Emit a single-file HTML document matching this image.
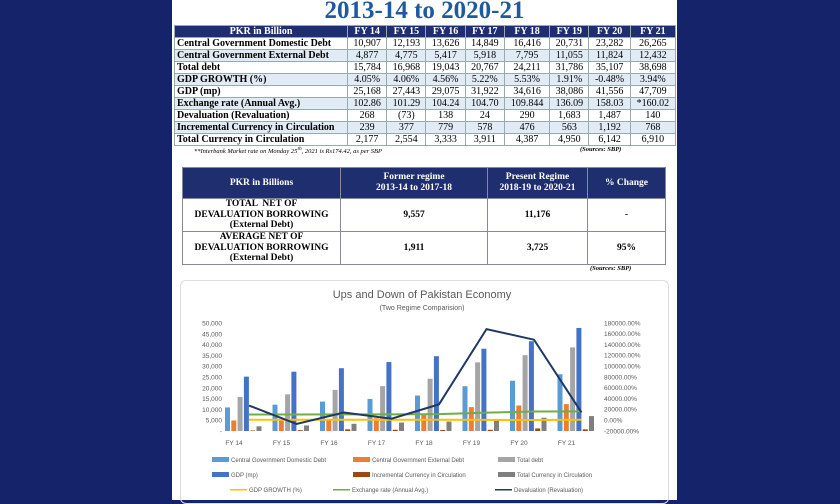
<!DOCTYPE html>
<html><head><meta charset="utf-8"><style>
body{margin:0;width:840px;height:500px;overflow:hidden;background:#15246a;font-family:"Liberation Serif",serif;}
#page{position:absolute;left:172px;top:0;width:505px;height:500px;background:#fff;}
#title{position:absolute;left:0;width:505px;top:-3px;text-align:center;font-weight:bold;font-size:25px;color:#1f5aa0;}
table{border-collapse:collapse;position:absolute;}
#t1{left:2px;top:25px;width:502px;font-size:10px;}
#t1 td,#t1 th{height:11px;padding:0 2px;line-height:11px;border:1px solid #9aa;text-align:center;}
#t1 th{background:#1e2e6e;color:#fff;}
#t1 td:first-child{text-align:left;font-weight:bold;}
#t1 tr.l td{background:#e1ebf5;}
#note{position:absolute;left:22px;top:146px;font-size:6.5px;font-style:italic;}
#src1{position:absolute;left:408px;top:146px;font-size:6.5px;font-style:italic;font-weight:bold;}
#t2{left:10px;top:167px;width:484px;font-size:9.5px;font-weight:bold;}
#t2 th{background:#1e2e6e;color:#fff;height:30px;border:1px solid #889;line-height:11px;padding:0;}
#t2 td{text-align:center;border:1px solid #889;height:32px;line-height:10.5px;padding:0;}
#src2{position:absolute;left:418px;top:265px;font-size:6.5px;font-style:italic;font-weight:bold;}
#chart{position:absolute;left:8px;top:280px;width:487px;height:222px;border:1px solid #ddd;border-radius:6px;}
</style></head><body>
<div id="page">
<div id="title">2013-14 to 2020-21</div>
<table id="t1">
<tr><th style="width:168px">PKR in Billion</th><th>FY 14</th><th>FY 15</th><th>FY 16</th><th>FY 17</th><th>FY 18</th><th>FY 19</th><th>FY 20</th><th>FY 21</th></tr>
<tr><td>Central Government Domestic Debt</td><td>10,907</td><td>12,193</td><td>13,626</td><td>14,849</td><td>16,416</td><td>20,731</td><td>23,282</td><td>26,265</td></tr>
<tr class="l"><td>Central Government External Debt</td><td>4,877</td><td>4,775</td><td>5,417</td><td>5,918</td><td>7,795</td><td>11,055</td><td>11,824</td><td>12,432</td></tr>
<tr><td>Total debt</td><td>15,784</td><td>16,968</td><td>19,043</td><td>20,767</td><td>24,211</td><td>31,786</td><td>35,107</td><td>38,698</td></tr>
<tr class="l"><td>GDP GROWTH (%)</td><td>4.05%</td><td>4.06%</td><td>4.56%</td><td>5.22%</td><td>5.53%</td><td>1.91%</td><td>-0.48%</td><td>3.94%</td></tr>
<tr><td>GDP (mp)</td><td>25,168</td><td>27,443</td><td>29,075</td><td>31,922</td><td>34,616</td><td>38,086</td><td>41,556</td><td>47,709</td></tr>
<tr class="l"><td>Exchange rate (Annual Avg.)</td><td>102.86</td><td>101.29</td><td>104.24</td><td>104.70</td><td>109.844</td><td>136.09</td><td>158.03</td><td>*160.02</td></tr>
<tr><td>Devaluation (Revaluation)</td><td>268</td><td>(73)</td><td>138</td><td>24</td><td>290</td><td>1,683</td><td>1,487</td><td>140</td></tr>
<tr class="l"><td>Incremental Currency in Circulation</td><td>239</td><td>377</td><td>779</td><td>578</td><td>476</td><td>563</td><td>1,192</td><td>768</td></tr>
<tr><td>Total Currency in Circulation</td><td>2,177</td><td>2,554</td><td>3,333</td><td>3,911</td><td>4,387</td><td>4,950</td><td>6,142</td><td>6,910</td></tr>
</table>
<div id="note">**Interbank Market rate on Monday 25<sup>th</sup>, 2021 is Rs174.42, as per SBP</div>
<div id="src1">(Sources: SBP)</div>
<table id="t2">
<tr><th style="width:157px">PKR in Billions</th><th style="width:146px">Former regime<br>2013-14 to 2017-18</th><th style="width:99px">Present Regime<br>2018-19 to 2020-21</th><th>% Change</th></tr>
<tr><td>TOTAL &nbsp;NET OF<br>DEVALUATION BORROWING<br>(External Debt)</td><td>9,557</td><td>11,176</td><td>-</td></tr>
<tr><td>AVERAGE NET OF<br>DEVALUATION BORROWING<br>(External Debt)</td><td>1,911</td><td>3,725</td><td>95%</td></tr>
</table>
<div id="src2">(Sources: SBP)</div>
<div id="chart"></div>
</div>
<svg id="svg" width="840" height="500" style="position:absolute;left:0;top:0" font-family="Liberation Sans, sans-serif"></svg>
<script>
const categories=["FY 14","FY 15","FY 16","FY 17","FY 18","FY 19","FY 20","FY 21"];
const domestic=[10907,12193,13626,14849,16416,20731,23282,26265];
const external=[4877,4775,5417,5918,7795,11055,11824,12432];
const totalDebt=[15784,16968,19043,20767,24211,31786,35107,38698];
const gdp=[25168,27443,29075,31922,34616,38086,41556,47709];
const incremental=[239,377,779,578,476,563,1192,768];
const totalCurrency=[2177,2554,3333,3911,4387,4950,6142,6910];
const gdpGrowth=[4.05,4.06,4.56,5.22,5.53,1.91,-0.48,3.94];
const exchange=[102.86,101.29,104.24,104.70,109.844,136.09,158.03,160.02];
const devaluation=[268,-73,138,24,290,1683,1487,140];
const leftTicks=[50000,45000,40000,35000,30000,25000,20000,15000,10000,5000,0];
const rightTicks=[180000,160000,140000,120000,100000,80000,60000,40000,20000,0,-20000];
const NS="http://www.w3.org/2000/svg",svg=document.getElementById('svg');
function mk(t,a,txt){const e=document.createElementNS(NS,t);for(const k in a)e.setAttribute(k,a[k]);if(txt!==undefined)e.textContent=txt;svg.appendChild(e);return e;}
const yL=v=>431-v*108/50000;
const yR=p=>420-p*108/200000;
const xC=i=>249+i*47.5;
let e;
e=mk('text',{x:422,y:298,'text-anchor':'middle','font-size':11,fill:'#595959'},'Ups and Down of Pakistan Economy');

e=mk('text',{x:422,y:310,'text-anchor':'middle','font-size':7,fill:'#595959'},'(Two Regime Comparision)');

leftTicks.forEach(v=>{e=mk('text',{x:222,y:yL(v)+2.5,'text-anchor':'end','font-size':6.5,fill:'#595959'},v===0?'-':v.toLocaleString('en-US'));
});
rightTicks.forEach(v=>{e=mk('text',{x:604,y:yR(v)+2.5,'font-size':6.5,fill:'#595959'},v.toFixed(2)+'%');
});
const series=[[domestic,'#5b9bd5'],[external,'#ed7d31'],[totalDebt,'#a5a5a5'],[gdp,'#4472c4'],[incremental,'#9e480e'],[totalCurrency,'#7f7f7f']];
const names=['bar-domestic-debt','bar-external-debt','bar-total-debt','bar-gdp','bar-incremental-currency','bar-total-currency'];
series.forEach((s,k)=>{s[0].forEach((v,i)=>{const x=xC(i)-24+k*6.3;
e=mk('rect',{x:x,y:yL(v),width:5,height:yL(0)-yL(v),fill:s[1]});
});});
categories.forEach((c,i)=>{e=mk('text',{x:xC(i)-15,y:445,'text-anchor':'middle','font-size':6.5,fill:'#595959'},c);
});
const lines=[[gdpGrowth,'#ffc000','line-gdp-growth'],[exchange,'#70ad47','line-exchange-rate'],[devaluation,'#1f3864','line-devaluation']];
lines.forEach(l=>{const pts=l[0].map((v,i)=>xC(i)+','+yR(v*100)).join(' ');
e=mk('polyline',{points:pts,fill:'none',stroke:l[1],'stroke-width':2});
});
const legend=[['Central Government Domestic Debt','#5b9bd5',212,460,0],['Central Government External Debt','#ed7d31',353,460,0],['Total debt','#a5a5a5',498,460,0],
['GDP (mp)','#4472c4',212,475,0],['Incremental Currency in Circulation','#9e480e',353,475,0],['Total Currency in Circulation','#7f7f7f',498,475,0],
['GDP GROWTH (%)','#ffc000',230,490,1],['Exchange rate (Annual Avg.)','#70ad47',333,490,1],['Devaluation (Revaluation)','#1f3864',495,490,1]];
legend.forEach(L=>{const x=L[2],y=L[3];
e=L[4]?mk('rect',{x:x,y:y-1,width:17,height:1.5,fill:L[1]}):mk('rect',{x:x,y:y-3,width:17,height:5,fill:L[1]});

e=mk('text',{x:x+19,y:y+2,'font-size':6,fill:'#595959'},L[0]);
});
</script>
</body></html>
